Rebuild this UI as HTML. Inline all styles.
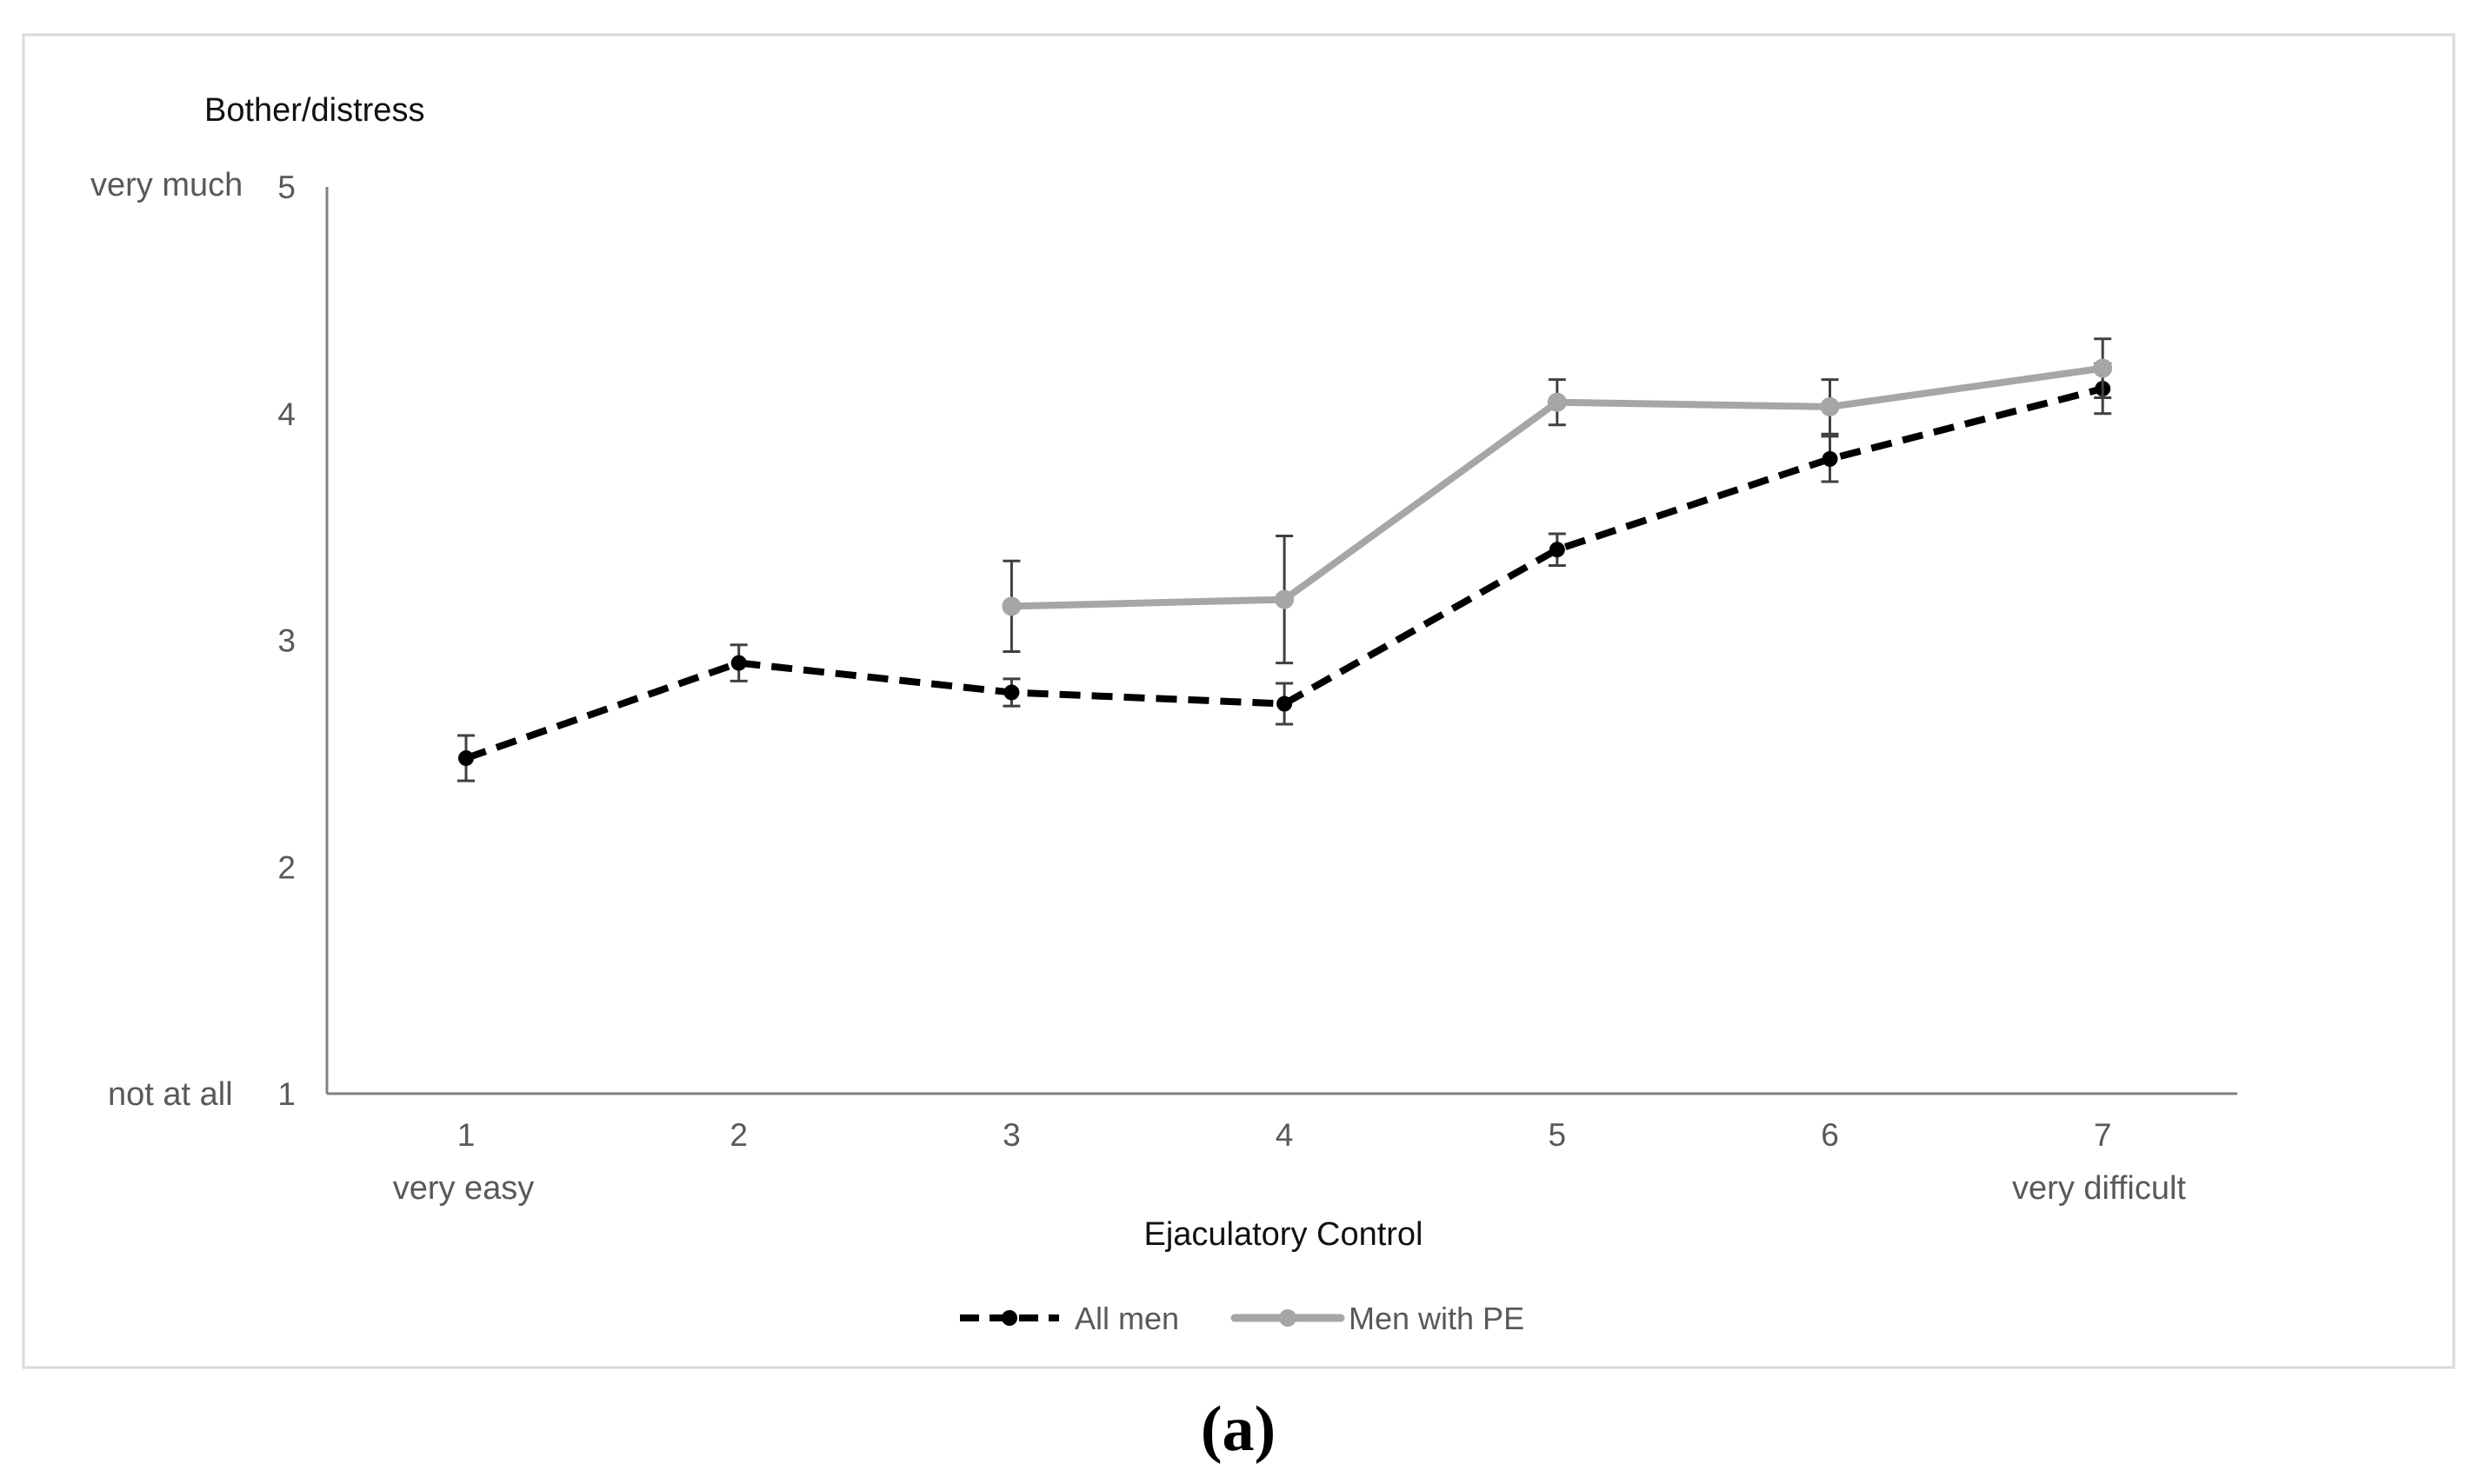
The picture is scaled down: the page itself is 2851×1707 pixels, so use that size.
<!DOCTYPE html>
<html><head><meta charset="utf-8"><style>
body{margin:0;background:#fff}
svg{display:block}
text{font-family:"Liberation Sans",sans-serif}
</style></head><body>
<svg id="c" width="2851" height="1707" viewBox="0 0 2851 1707">
<rect x="27" y="40" width="2795" height="1533" fill="#fff" stroke="#d9d9d9" stroke-width="3"/>
<text x="235" y="139" font-size="38" fill="#111">Bother/distress</text>
<text x="104" y="225" font-size="38" fill="#595959">very much</text>
<text x="124" y="1271" font-size="38" fill="#595959">not at all</text>
<text x="533" y="1379" font-size="38" fill="#595959" text-anchor="middle">very easy</text>
<text x="2414" y="1379" font-size="38" fill="#595959" text-anchor="middle">very difficult</text>
<text x="1476" y="1432" font-size="38" fill="#111" text-anchor="middle">Ejaculatory Control</text>
<g id="axes"></g>
<g id="marks"></g>
<g>
<line x1="1104" y1="1516" x2="1218" y2="1516" stroke="#000" stroke-width="8" stroke-dasharray="22,12"/>
<circle cx="1161" cy="1516" r="9" fill="#000"/>
<text x="1236" y="1529" font-size="36" fill="#595959">All men</text>
<line x1="1420" y1="1516" x2="1542" y2="1516" stroke="#a6a6a6" stroke-width="9" stroke-linecap="round"/>
<circle cx="1481" cy="1516" r="10" fill="#a6a6a6"/>
<text x="1551" y="1529" font-size="36" fill="#595959">Men with PE</text>
</g>
<text x="1424" y="1668" font-size="74" font-weight="bold" text-anchor="middle" fill="#000" style="font-family:'Liberation Serif',serif">(a)</text>
</svg>
<script>
const categories=[1,2,3,4,5,6,7];
const yTicks=[1,2,3,4,5];
const allMen=[2.48,2.90,2.77,2.72,3.40,3.80,4.11];
const allMenErr=[0.10,0.08,0.06,0.09,0.07,0.10,0.11];
const peMen=[null,null,3.15,3.18,4.05,4.03,4.20];
const peErr=[null,null,0.20,0.28,0.10,0.12,0.13];
const NS="http://www.w3.org/2000/svg";
const X0=376,X1=2573,Y0=1258,Y1=215;
function xs(i){return 536+i*313.7;}
function ys(v){return Y0-(v-1)/(4)*(Y0-Y1);}
function mk(tag,a,p){const e=document.createElementNS(NS,tag);for(const k in a)e.setAttribute(k,a[k]);p.appendChild(e);return e;}
const ax=document.getElementById('axes'),mg=document.getElementById('marks');
let l=mk('line',{x1:X0,y1:Y1,x2:X0,y2:Y0,stroke:'#7f7f7f','stroke-width':3},ax);


l=mk('line',{x1:X0,y1:Y0,x2:X1,y2:Y0,stroke:'#7f7f7f','stroke-width':3},ax);


yTicks.forEach(v=>{const t=mk('text',{x:340,y:ys(v)+13,'font-size':37,fill:'#595959','text-anchor':'end'},ax);t.textContent=v;

});
categories.forEach((c,i)=>{const t=mk('text',{x:xs(i),y:1318,'font-size':37,fill:'#595959','text-anchor':'middle'},ax);t.textContent=c;

});
function series(vals,errs,color,w,dash,r,name){
 const pts=[];vals.forEach((v,i)=>{if(v!=null)pts.push([xs(i),ys(v),i]);});
 vals.forEach((v,i)=>{if(v==null)return;const x=xs(i);
  const g=mk('g',{stroke:'#404040','stroke-width':3},mg);
  
  
  mk('line',{x1:x,x2:x,y1:ys(v-errs[i]),y2:ys(v+errs[i])},g);
  mk('line',{x1:x-10,x2:x+10,y1:ys(v-errs[i]),y2:ys(v-errs[i])},g);
  mk('line',{x1:x-10,x2:x+10,y1:ys(v+errs[i]),y2:ys(v+errs[i])},g);});
 const p=mk('polyline',{points:pts.map(q=>q[0]+','+q[1]).join(' '),fill:'none',stroke:color,'stroke-width':w,'stroke-dasharray':dash,'stroke-linejoin':'round'},mg);
 
 
 pts.forEach(q=>{const c=mk('circle',{cx:q[0],cy:q[1],r:r,fill:color},mg);
  
  });
}
series(allMen,allMenErr,'#000',8,'24,13',9,'all-men');
series(peMen,peErr,'#a6a6a6',8,'none',11,'men-with-pe');
</script>
</body></html>
